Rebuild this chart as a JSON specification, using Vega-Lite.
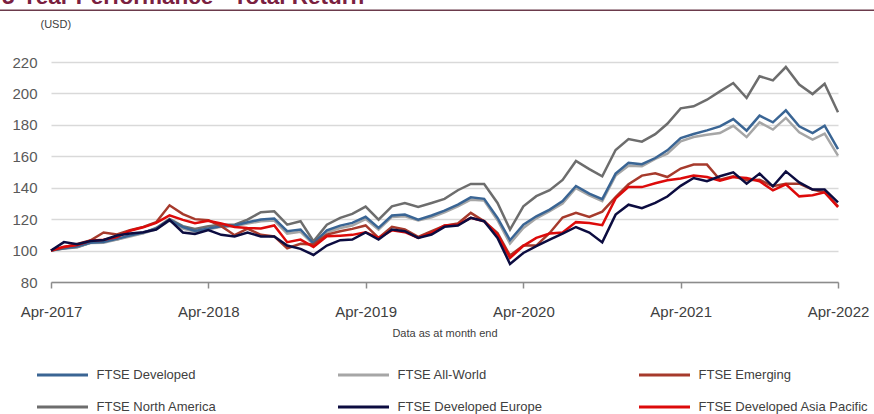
{
 "$schema": "https://vega.github.io/schema/vega-lite/v6.json",
 "width": 787,
 "height": 220,
 "autosize": {"type": "none"},
 "padding": {"left": 51, "top": 62, "right": 36, "bottom": 132},
 "background": "white",
 "config": {"view": {"stroke": null}, "font": "Liberation Sans"},
 "title": {"text": "5-Year Performance - Total Return", "anchor": "start", "frame": "group", "fontSize": 22.5, "fontWeight": "bold", "color": "#7a2040", "font": "Liberation Sans", "baseline": "alphabetic", "offset": 0, "dx": -49, "dy": 17},
 "datasets": {
  "frame": [{"start": "2016-12-01", "end": "2022-07-31", "level": 253}],
  "perf": [
{"month":"2017-04-01","series":"FTSE North America","value":100},
{"month":"2017-05-01","series":"FTSE North America","value":101.3},
{"month":"2017-06-01","series":"FTSE North America","value":102.1},
{"month":"2017-07-01","series":"FTSE North America","value":104.9},
{"month":"2017-08-01","series":"FTSE North America","value":105.9},
{"month":"2017-09-01","series":"FTSE North America","value":107.0},
{"month":"2017-10-01","series":"FTSE North America","value":109.5},
{"month":"2017-11-01","series":"FTSE North America","value":111.2},
{"month":"2017-12-01","series":"FTSE North America","value":114.4},
{"month":"2018-01-01","series":"FTSE North America","value":120.1},
{"month":"2018-02-01","series":"FTSE North America","value":115.5},
{"month":"2018-03-01","series":"FTSE North America","value":113.8},
{"month":"2018-04-01","series":"FTSE North America","value":115.5},
{"month":"2018-05-01","series":"FTSE North America","value":116.5},
{"month":"2018-06-01","series":"FTSE North America","value":116.5},
{"month":"2018-07-01","series":"FTSE North America","value":119.7},
{"month":"2018-08-01","series":"FTSE North America","value":124.4},
{"month":"2018-09-01","series":"FTSE North America","value":125.0},
{"month":"2018-10-01","series":"FTSE North America","value":116.5},
{"month":"2018-11-01","series":"FTSE North America","value":118.7},
{"month":"2018-12-01","series":"FTSE North America","value":105.9},
{"month":"2019-01-01","series":"FTSE North America","value":116.5},
{"month":"2019-02-01","series":"FTSE North America","value":120.8},
{"month":"2019-03-01","series":"FTSE North America","value":123.3},
{"month":"2019-04-01","series":"FTSE North America","value":128.0},
{"month":"2019-05-01","series":"FTSE North America","value":119.7},
{"month":"2019-06-01","series":"FTSE North America","value":128.2},
{"month":"2019-07-01","series":"FTSE North America","value":130.3},
{"month":"2019-08-01","series":"FTSE North America","value":127.8},
{"month":"2019-09-01","series":"FTSE North America","value":130.3},
{"month":"2019-10-01","series":"FTSE North America","value":132.9},
{"month":"2019-11-01","series":"FTSE North America","value":138.4},
{"month":"2019-12-01","series":"FTSE North America","value":142.4},
{"month":"2020-01-01","series":"FTSE North America","value":142.4},
{"month":"2020-02-01","series":"FTSE North America","value":130.3},
{"month":"2020-03-01","series":"FTSE North America","value":113.4},
{"month":"2020-04-01","series":"FTSE North America","value":128.2},
{"month":"2020-05-01","series":"FTSE North America","value":134.6},
{"month":"2020-06-01","series":"FTSE North America","value":138.4},
{"month":"2020-07-01","series":"FTSE North America","value":145.0},
{"month":"2020-08-01","series":"FTSE North America","value":157.0},
{"month":"2020-09-01","series":"FTSE North America","value":151.8},
{"month":"2020-10-01","series":"FTSE North America","value":147.3},
{"month":"2020-11-01","series":"FTSE North America","value":164.0},
{"month":"2020-12-01","series":"FTSE North America","value":171.0},
{"month":"2021-01-01","series":"FTSE North America","value":169.3},
{"month":"2021-02-01","series":"FTSE North America","value":174.1},
{"month":"2021-03-01","series":"FTSE North America","value":180.7},
{"month":"2021-04-01","series":"FTSE North America","value":190.5},
{"month":"2021-05-01","series":"FTSE North America","value":191.8},
{"month":"2021-06-01","series":"FTSE North America","value":196.0},
{"month":"2021-07-01","series":"FTSE North America","value":201.3},
{"month":"2021-08-01","series":"FTSE North America","value":206.6},
{"month":"2021-09-01","series":"FTSE North America","value":197.1},
{"month":"2021-10-01","series":"FTSE North America","value":210.9},
{"month":"2021-11-01","series":"FTSE North America","value":208.3},
{"month":"2021-12-01","series":"FTSE North America","value":216.8},
{"month":"2022-01-01","series":"FTSE North America","value":205.6},
{"month":"2022-02-01","series":"FTSE North America","value":199.6},
{"month":"2022-03-01","series":"FTSE North America","value":206.2},
{"month":"2022-04-01","series":"FTSE North America","value":188.0},
{"month":"2017-04-01","series":"FTSE All-World","value":100},
{"month":"2017-05-01","series":"FTSE All-World","value":101.7},
{"month":"2017-06-01","series":"FTSE All-World","value":102.5},
{"month":"2017-07-01","series":"FTSE All-World","value":104.8},
{"month":"2017-08-01","series":"FTSE All-World","value":105.0},
{"month":"2017-09-01","series":"FTSE All-World","value":107.0},
{"month":"2017-10-01","series":"FTSE All-World","value":109.0},
{"month":"2017-11-01","series":"FTSE All-World","value":111.0},
{"month":"2017-12-01","series":"FTSE All-World","value":113.5},
{"month":"2018-01-01","series":"FTSE All-World","value":119.0},
{"month":"2018-02-01","series":"FTSE All-World","value":114.0},
{"month":"2018-03-01","series":"FTSE All-World","value":112.0},
{"month":"2018-04-01","series":"FTSE All-World","value":113.5},
{"month":"2018-05-01","series":"FTSE All-World","value":115.1},
{"month":"2018-06-01","series":"FTSE All-World","value":115.5},
{"month":"2018-07-01","series":"FTSE All-World","value":117.2},
{"month":"2018-08-01","series":"FTSE All-World","value":118.7},
{"month":"2018-09-01","series":"FTSE All-World","value":119.1},
{"month":"2018-10-01","series":"FTSE All-World","value":110.8},
{"month":"2018-11-01","series":"FTSE All-World","value":111.9},
{"month":"2018-12-01","series":"FTSE All-World","value":103.8},
{"month":"2019-01-01","series":"FTSE All-World","value":111.7},
{"month":"2019-02-01","series":"FTSE All-World","value":114.4},
{"month":"2019-03-01","series":"FTSE All-World","value":115.9},
{"month":"2019-04-01","series":"FTSE All-World","value":120.0},
{"month":"2019-05-01","series":"FTSE All-World","value":113.4},
{"month":"2019-06-01","series":"FTSE All-World","value":121.4},
{"month":"2019-07-01","series":"FTSE All-World","value":121.8},
{"month":"2019-08-01","series":"FTSE All-World","value":119.1},
{"month":"2019-09-01","series":"FTSE All-World","value":121.2},
{"month":"2019-10-01","series":"FTSE All-World","value":124.4},
{"month":"2019-11-01","series":"FTSE All-World","value":128.2},
{"month":"2019-12-01","series":"FTSE All-World","value":132.4},
{"month":"2020-01-01","series":"FTSE All-World","value":131.8},
{"month":"2020-02-01","series":"FTSE All-World","value":119.3},
{"month":"2020-03-01","series":"FTSE All-World","value":104.5},
{"month":"2020-04-01","series":"FTSE All-World","value":114.4},
{"month":"2020-05-01","series":"FTSE All-World","value":120.5},
{"month":"2020-06-01","series":"FTSE All-World","value":125.0},
{"month":"2020-07-01","series":"FTSE All-World","value":130.0},
{"month":"2020-08-01","series":"FTSE All-World","value":139.8},
{"month":"2020-09-01","series":"FTSE All-World","value":135.2},
{"month":"2020-10-01","series":"FTSE All-World","value":131.5},
{"month":"2020-11-01","series":"FTSE All-World","value":147.7},
{"month":"2020-12-01","series":"FTSE All-World","value":154.0},
{"month":"2021-01-01","series":"FTSE All-World","value":153.6},
{"month":"2021-02-01","series":"FTSE All-World","value":158.3},
{"month":"2021-03-01","series":"FTSE All-World","value":161.7},
{"month":"2021-04-01","series":"FTSE All-World","value":169.5},
{"month":"2021-05-01","series":"FTSE All-World","value":172.3},
{"month":"2021-06-01","series":"FTSE All-World","value":173.7},
{"month":"2021-07-01","series":"FTSE All-World","value":174.8},
{"month":"2021-08-01","series":"FTSE All-World","value":179.4},
{"month":"2021-09-01","series":"FTSE All-World","value":172.2},
{"month":"2021-10-01","series":"FTSE All-World","value":181.6},
{"month":"2021-11-01","series":"FTSE All-World","value":177.0},
{"month":"2021-12-01","series":"FTSE All-World","value":184.4},
{"month":"2022-01-01","series":"FTSE All-World","value":175.3},
{"month":"2022-02-01","series":"FTSE All-World","value":170.6},
{"month":"2022-03-01","series":"FTSE All-World","value":174.4},
{"month":"2022-04-01","series":"FTSE All-World","value":160.4},
{"month":"2017-04-01","series":"FTSE Developed","value":100},
{"month":"2017-05-01","series":"FTSE Developed","value":101.5},
{"month":"2017-06-01","series":"FTSE Developed","value":102.5},
{"month":"2017-07-01","series":"FTSE Developed","value":105.0},
{"month":"2017-08-01","series":"FTSE Developed","value":105.5},
{"month":"2017-09-01","series":"FTSE Developed","value":107.5},
{"month":"2017-10-01","series":"FTSE Developed","value":109.5},
{"month":"2017-11-01","series":"FTSE Developed","value":111.5},
{"month":"2017-12-01","series":"FTSE Developed","value":114.0},
{"month":"2018-01-01","series":"FTSE Developed","value":119.5},
{"month":"2018-02-01","series":"FTSE Developed","value":115.0},
{"month":"2018-03-01","series":"FTSE Developed","value":112.5},
{"month":"2018-04-01","series":"FTSE Developed","value":114.0},
{"month":"2018-05-01","series":"FTSE Developed","value":115.5},
{"month":"2018-06-01","series":"FTSE Developed","value":115.9},
{"month":"2018-07-01","series":"FTSE Developed","value":118.0},
{"month":"2018-08-01","series":"FTSE Developed","value":119.7},
{"month":"2018-09-01","series":"FTSE Developed","value":120.4},
{"month":"2018-10-01","series":"FTSE Developed","value":112.3},
{"month":"2018-11-01","series":"FTSE Developed","value":113.4},
{"month":"2018-12-01","series":"FTSE Developed","value":104.5},
{"month":"2019-01-01","series":"FTSE Developed","value":112.9},
{"month":"2019-02-01","series":"FTSE Developed","value":115.9},
{"month":"2019-03-01","series":"FTSE Developed","value":117.6},
{"month":"2019-04-01","series":"FTSE Developed","value":121.5},
{"month":"2019-05-01","series":"FTSE Developed","value":114.4},
{"month":"2019-06-01","series":"FTSE Developed","value":122.3},
{"month":"2019-07-01","series":"FTSE Developed","value":122.9},
{"month":"2019-08-01","series":"FTSE Developed","value":119.7},
{"month":"2019-09-01","series":"FTSE Developed","value":122.3},
{"month":"2019-10-01","series":"FTSE Developed","value":125.4},
{"month":"2019-11-01","series":"FTSE Developed","value":129.3},
{"month":"2019-12-01","series":"FTSE Developed","value":133.9},
{"month":"2020-01-01","series":"FTSE Developed","value":132.9},
{"month":"2020-02-01","series":"FTSE Developed","value":120.8},
{"month":"2020-03-01","series":"FTSE Developed","value":106.6},
{"month":"2020-04-01","series":"FTSE Developed","value":116.5},
{"month":"2020-05-01","series":"FTSE Developed","value":121.8},
{"month":"2020-06-01","series":"FTSE Developed","value":126.1},
{"month":"2020-07-01","series":"FTSE Developed","value":131.5},
{"month":"2020-08-01","series":"FTSE Developed","value":141.1},
{"month":"2020-09-01","series":"FTSE Developed","value":136.2},
{"month":"2020-10-01","series":"FTSE Developed","value":132.7},
{"month":"2020-11-01","series":"FTSE Developed","value":149.0},
{"month":"2020-12-01","series":"FTSE Developed","value":155.8},
{"month":"2021-01-01","series":"FTSE Developed","value":155.0},
{"month":"2021-02-01","series":"FTSE Developed","value":158.9},
{"month":"2021-03-01","series":"FTSE Developed","value":163.8},
{"month":"2021-04-01","series":"FTSE Developed","value":171.6},
{"month":"2021-05-01","series":"FTSE Developed","value":174.2},
{"month":"2021-06-01","series":"FTSE Developed","value":176.5},
{"month":"2021-07-01","series":"FTSE Developed","value":179.0},
{"month":"2021-08-01","series":"FTSE Developed","value":183.7},
{"month":"2021-09-01","series":"FTSE Developed","value":176.3},
{"month":"2021-10-01","series":"FTSE Developed","value":185.9},
{"month":"2021-11-01","series":"FTSE Developed","value":181.6},
{"month":"2021-12-01","series":"FTSE Developed","value":189.2},
{"month":"2022-01-01","series":"FTSE Developed","value":179.1},
{"month":"2022-02-01","series":"FTSE Developed","value":174.8},
{"month":"2022-03-01","series":"FTSE Developed","value":179.5},
{"month":"2022-04-01","series":"FTSE Developed","value":164.6},
{"month":"2017-04-01","series":"FTSE Emerging","value":100},
{"month":"2017-05-01","series":"FTSE Emerging","value":102.1},
{"month":"2017-06-01","series":"FTSE Emerging","value":104.2},
{"month":"2017-07-01","series":"FTSE Emerging","value":106.4},
{"month":"2017-08-01","series":"FTSE Emerging","value":111.5},
{"month":"2017-09-01","series":"FTSE Emerging","value":110.2},
{"month":"2017-10-01","series":"FTSE Emerging","value":112.9},
{"month":"2017-11-01","series":"FTSE Emerging","value":115.1},
{"month":"2017-12-01","series":"FTSE Emerging","value":118.0},
{"month":"2018-01-01","series":"FTSE Emerging","value":128.8},
{"month":"2018-02-01","series":"FTSE Emerging","value":123.2},
{"month":"2018-03-01","series":"FTSE Emerging","value":120.0},
{"month":"2018-04-01","series":"FTSE Emerging","value":119.3},
{"month":"2018-05-01","series":"FTSE Emerging","value":115.5},
{"month":"2018-06-01","series":"FTSE Emerging","value":109.8},
{"month":"2018-07-01","series":"FTSE Emerging","value":114.0},
{"month":"2018-08-01","series":"FTSE Emerging","value":110.0},
{"month":"2018-09-01","series":"FTSE Emerging","value":109.0},
{"month":"2018-10-01","series":"FTSE Emerging","value":101.5},
{"month":"2018-11-01","series":"FTSE Emerging","value":104.3},
{"month":"2018-12-01","series":"FTSE Emerging","value":103.8},
{"month":"2019-01-01","series":"FTSE Emerging","value":110.2},
{"month":"2019-02-01","series":"FTSE Emerging","value":112.3},
{"month":"2019-03-01","series":"FTSE Emerging","value":113.8},
{"month":"2019-04-01","series":"FTSE Emerging","value":116.0},
{"month":"2019-05-01","series":"FTSE Emerging","value":108.1},
{"month":"2019-06-01","series":"FTSE Emerging","value":115.1},
{"month":"2019-07-01","series":"FTSE Emerging","value":113.4},
{"month":"2019-08-01","series":"FTSE Emerging","value":108.7},
{"month":"2019-09-01","series":"FTSE Emerging","value":112.3},
{"month":"2019-10-01","series":"FTSE Emerging","value":115.9},
{"month":"2019-11-01","series":"FTSE Emerging","value":117.2},
{"month":"2019-12-01","series":"FTSE Emerging","value":124.0},
{"month":"2020-01-01","series":"FTSE Emerging","value":118.7},
{"month":"2020-02-01","series":"FTSE Emerging","value":111.2},
{"month":"2020-03-01","series":"FTSE Emerging","value":96.8},
{"month":"2020-04-01","series":"FTSE Emerging","value":103.3},
{"month":"2020-05-01","series":"FTSE Emerging","value":103.2},
{"month":"2020-06-01","series":"FTSE Emerging","value":111.2},
{"month":"2020-07-01","series":"FTSE Emerging","value":121.0},
{"month":"2020-08-01","series":"FTSE Emerging","value":124.0},
{"month":"2020-09-01","series":"FTSE Emerging","value":121.4},
{"month":"2020-10-01","series":"FTSE Emerging","value":124.8},
{"month":"2020-11-01","series":"FTSE Emerging","value":134.0},
{"month":"2020-12-01","series":"FTSE Emerging","value":142.2},
{"month":"2021-01-01","series":"FTSE Emerging","value":147.7},
{"month":"2021-02-01","series":"FTSE Emerging","value":149.2},
{"month":"2021-03-01","series":"FTSE Emerging","value":146.8},
{"month":"2021-04-01","series":"FTSE Emerging","value":152.2},
{"month":"2021-05-01","series":"FTSE Emerging","value":154.7},
{"month":"2021-06-01","series":"FTSE Emerging","value":154.7},
{"month":"2021-07-01","series":"FTSE Emerging","value":145.1},
{"month":"2021-08-01","series":"FTSE Emerging","value":147.3},
{"month":"2021-09-01","series":"FTSE Emerging","value":144.7},
{"month":"2021-10-01","series":"FTSE Emerging","value":145.1},
{"month":"2021-11-01","series":"FTSE Emerging","value":140.9},
{"month":"2021-12-01","series":"FTSE Emerging","value":142.6},
{"month":"2022-01-01","series":"FTSE Emerging","value":142.6},
{"month":"2022-02-01","series":"FTSE Emerging","value":138.8},
{"month":"2022-03-01","series":"FTSE Emerging","value":137.1},
{"month":"2022-04-01","series":"FTSE Emerging","value":128.2},
{"month":"2017-04-01","series":"FTSE Developed Asia Pacific","value":100},
{"month":"2017-05-01","series":"FTSE Developed Asia Pacific","value":102.5},
{"month":"2017-06-01","series":"FTSE Developed Asia Pacific","value":103.6},
{"month":"2017-07-01","series":"FTSE Developed Asia Pacific","value":106.2},
{"month":"2017-08-01","series":"FTSE Developed Asia Pacific","value":106.9},
{"month":"2017-09-01","series":"FTSE Developed Asia Pacific","value":108.6},
{"month":"2017-10-01","series":"FTSE Developed Asia Pacific","value":112.6},
{"month":"2017-11-01","series":"FTSE Developed Asia Pacific","value":114.8},
{"month":"2017-12-01","series":"FTSE Developed Asia Pacific","value":117.6},
{"month":"2018-01-01","series":"FTSE Developed Asia Pacific","value":122.4},
{"month":"2018-02-01","series":"FTSE Developed Asia Pacific","value":119.5},
{"month":"2018-03-01","series":"FTSE Developed Asia Pacific","value":117.4},
{"month":"2018-04-01","series":"FTSE Developed Asia Pacific","value":119.0},
{"month":"2018-05-01","series":"FTSE Developed Asia Pacific","value":117.2},
{"month":"2018-06-01","series":"FTSE Developed Asia Pacific","value":115.0},
{"month":"2018-07-01","series":"FTSE Developed Asia Pacific","value":114.4},
{"month":"2018-08-01","series":"FTSE Developed Asia Pacific","value":114.1},
{"month":"2018-09-01","series":"FTSE Developed Asia Pacific","value":116.0},
{"month":"2018-10-01","series":"FTSE Developed Asia Pacific","value":105.3},
{"month":"2018-11-01","series":"FTSE Developed Asia Pacific","value":107.0},
{"month":"2018-12-01","series":"FTSE Developed Asia Pacific","value":102.3},
{"month":"2019-01-01","series":"FTSE Developed Asia Pacific","value":109.1},
{"month":"2019-02-01","series":"FTSE Developed Asia Pacific","value":109.5},
{"month":"2019-03-01","series":"FTSE Developed Asia Pacific","value":110.0},
{"month":"2019-04-01","series":"FTSE Developed Asia Pacific","value":111.7},
{"month":"2019-05-01","series":"FTSE Developed Asia Pacific","value":108.1},
{"month":"2019-06-01","series":"FTSE Developed Asia Pacific","value":112.9},
{"month":"2019-07-01","series":"FTSE Developed Asia Pacific","value":111.7},
{"month":"2019-08-01","series":"FTSE Developed Asia Pacific","value":108.1},
{"month":"2019-09-01","series":"FTSE Developed Asia Pacific","value":111.2},
{"month":"2019-10-01","series":"FTSE Developed Asia Pacific","value":115.9},
{"month":"2019-11-01","series":"FTSE Developed Asia Pacific","value":116.5},
{"month":"2019-12-01","series":"FTSE Developed Asia Pacific","value":120.8},
{"month":"2020-01-01","series":"FTSE Developed Asia Pacific","value":118.7},
{"month":"2020-02-01","series":"FTSE Developed Asia Pacific","value":110.2},
{"month":"2020-03-01","series":"FTSE Developed Asia Pacific","value":95.3},
{"month":"2020-04-01","series":"FTSE Developed Asia Pacific","value":103.0},
{"month":"2020-05-01","series":"FTSE Developed Asia Pacific","value":108.1},
{"month":"2020-06-01","series":"FTSE Developed Asia Pacific","value":110.8},
{"month":"2020-07-01","series":"FTSE Developed Asia Pacific","value":111.5},
{"month":"2020-08-01","series":"FTSE Developed Asia Pacific","value":118.1},
{"month":"2020-09-01","series":"FTSE Developed Asia Pacific","value":117.6},
{"month":"2020-10-01","series":"FTSE Developed Asia Pacific","value":116.2},
{"month":"2020-11-01","series":"FTSE Developed Asia Pacific","value":133.2},
{"month":"2020-12-01","series":"FTSE Developed Asia Pacific","value":140.5},
{"month":"2021-01-01","series":"FTSE Developed Asia Pacific","value":140.4},
{"month":"2021-02-01","series":"FTSE Developed Asia Pacific","value":142.8},
{"month":"2021-03-01","series":"FTSE Developed Asia Pacific","value":144.7},
{"month":"2021-04-01","series":"FTSE Developed Asia Pacific","value":145.9},
{"month":"2021-05-01","series":"FTSE Developed Asia Pacific","value":147.7},
{"month":"2021-06-01","series":"FTSE Developed Asia Pacific","value":146.8},
{"month":"2021-07-01","series":"FTSE Developed Asia Pacific","value":144.5},
{"month":"2021-08-01","series":"FTSE Developed Asia Pacific","value":146.8},
{"month":"2021-09-01","series":"FTSE Developed Asia Pacific","value":146.2},
{"month":"2021-10-01","series":"FTSE Developed Asia Pacific","value":144.1},
{"month":"2021-11-01","series":"FTSE Developed Asia Pacific","value":138.3},
{"month":"2021-12-01","series":"FTSE Developed Asia Pacific","value":142.2},
{"month":"2022-01-01","series":"FTSE Developed Asia Pacific","value":134.5},
{"month":"2022-02-01","series":"FTSE Developed Asia Pacific","value":135.2},
{"month":"2022-03-01","series":"FTSE Developed Asia Pacific","value":137.1},
{"month":"2022-04-01","series":"FTSE Developed Asia Pacific","value":127.7},
{"month":"2017-04-01","series":"FTSE Developed Europe","value":100},
{"month":"2017-05-01","series":"FTSE Developed Europe","value":105.4},
{"month":"2017-06-01","series":"FTSE Developed Europe","value":104.0},
{"month":"2017-07-01","series":"FTSE Developed Europe","value":106.1},
{"month":"2017-08-01","series":"FTSE Developed Europe","value":106.7},
{"month":"2017-09-01","series":"FTSE Developed Europe","value":109.6},
{"month":"2017-10-01","series":"FTSE Developed Europe","value":110.9},
{"month":"2017-11-01","series":"FTSE Developed Europe","value":111.7},
{"month":"2017-12-01","series":"FTSE Developed Europe","value":113.4},
{"month":"2018-01-01","series":"FTSE Developed Europe","value":119.5},
{"month":"2018-02-01","series":"FTSE Developed Europe","value":111.5},
{"month":"2018-03-01","series":"FTSE Developed Europe","value":110.5},
{"month":"2018-04-01","series":"FTSE Developed Europe","value":113.0},
{"month":"2018-05-01","series":"FTSE Developed Europe","value":110.0},
{"month":"2018-06-01","series":"FTSE Developed Europe","value":109.0},
{"month":"2018-07-01","series":"FTSE Developed Europe","value":111.5},
{"month":"2018-08-01","series":"FTSE Developed Europe","value":109.0},
{"month":"2018-09-01","series":"FTSE Developed Europe","value":109.0},
{"month":"2018-10-01","series":"FTSE Developed Europe","value":103.2},
{"month":"2018-11-01","series":"FTSE Developed Europe","value":101.1},
{"month":"2018-12-01","series":"FTSE Developed Europe","value":97.2},
{"month":"2019-01-01","series":"FTSE Developed Europe","value":103.2},
{"month":"2019-02-01","series":"FTSE Developed Europe","value":106.6},
{"month":"2019-03-01","series":"FTSE Developed Europe","value":107.0},
{"month":"2019-04-01","series":"FTSE Developed Europe","value":111.5},
{"month":"2019-05-01","series":"FTSE Developed Europe","value":107.0},
{"month":"2019-06-01","series":"FTSE Developed Europe","value":113.4},
{"month":"2019-07-01","series":"FTSE Developed Europe","value":112.3},
{"month":"2019-08-01","series":"FTSE Developed Europe","value":108.1},
{"month":"2019-09-01","series":"FTSE Developed Europe","value":110.2},
{"month":"2019-10-01","series":"FTSE Developed Europe","value":115.1},
{"month":"2019-11-01","series":"FTSE Developed Europe","value":115.9},
{"month":"2019-12-01","series":"FTSE Developed Europe","value":120.8},
{"month":"2020-01-01","series":"FTSE Developed Europe","value":118.7},
{"month":"2020-02-01","series":"FTSE Developed Europe","value":108.1},
{"month":"2020-03-01","series":"FTSE Developed Europe","value":91.5},
{"month":"2020-04-01","series":"FTSE Developed Europe","value":98.5},
{"month":"2020-05-01","series":"FTSE Developed Europe","value":102.8},
{"month":"2020-06-01","series":"FTSE Developed Europe","value":107.0},
{"month":"2020-07-01","series":"FTSE Developed Europe","value":110.8},
{"month":"2020-08-01","series":"FTSE Developed Europe","value":115.0},
{"month":"2020-09-01","series":"FTSE Developed Europe","value":111.5},
{"month":"2020-10-01","series":"FTSE Developed Europe","value":105.2},
{"month":"2020-11-01","series":"FTSE Developed Europe","value":122.9},
{"month":"2020-12-01","series":"FTSE Developed Europe","value":129.2},
{"month":"2021-01-01","series":"FTSE Developed Europe","value":127.0},
{"month":"2021-02-01","series":"FTSE Developed Europe","value":130.3},
{"month":"2021-03-01","series":"FTSE Developed Europe","value":134.4},
{"month":"2021-04-01","series":"FTSE Developed Europe","value":141.2},
{"month":"2021-05-01","series":"FTSE Developed Europe","value":146.2},
{"month":"2021-06-01","series":"FTSE Developed Europe","value":144.1},
{"month":"2021-07-01","series":"FTSE Developed Europe","value":147.3},
{"month":"2021-08-01","series":"FTSE Developed Europe","value":149.8},
{"month":"2021-09-01","series":"FTSE Developed Europe","value":142.6},
{"month":"2021-10-01","series":"FTSE Developed Europe","value":149.0},
{"month":"2021-11-01","series":"FTSE Developed Europe","value":140.9},
{"month":"2021-12-01","series":"FTSE Developed Europe","value":150.4},
{"month":"2022-01-01","series":"FTSE Developed Europe","value":143.4},
{"month":"2022-02-01","series":"FTSE Developed Europe","value":138.8},
{"month":"2022-03-01","series":"FTSE Developed Europe","value":138.8},
{"month":"2022-04-01","series":"FTSE Developed Europe","value":130.7}
  ]
 },
 "layer": [
  {
   "data": {"name": "perf"},
   "mark": {"type": "line", "strokeWidth": 2.5},
   "encoding": {
    "x": {
     "field": "month", "type": "temporal",
     "scale": {"type": "utc", "domain": [{"year": 2017, "month": 4, "date": 1, "utc": true}, {"year": 2022, "month": 4, "date": 1, "utc": true}]},
     "axis": {
      "title": "Data as at month end",
      "values": [{"year": 2017, "month": 4, "date": 1, "utc": true}, {"year": 2018, "month": 4, "date": 1, "utc": true}, {"year": 2019, "month": 4, "date": 1, "utc": true}, {"year": 2020, "month": 4, "date": 1, "utc": true}, {"year": 2021, "month": 4, "date": 1, "utc": true}, {"year": 2022, "month": 4, "date": 1, "utc": true}],
      "format": "%b-%Y", "labelFlush": false, "labelOverlap": false, "grid": false,
      "domainColor": "#8c8c8c", "domainWidth": 1.5, "tickColor": "#8c8c8c", "tickWidth": 1.5, "tickSize": 6,
      "labelFontSize": 15, "labelColor": "#404040", "labelPadding": 16,
      "titleFontSize": 11, "titleFontWeight": "normal", "titleColor": "#404040", "titlePadding": 8
     }
    },
    "y": {
     "field": "value", "type": "quantitative",
     "scale": {"domain": [80, 220], "nice": false, "zero": false},
     "axis": {
      "title": "(USD)", "values": [80, 100, 120, 140, 160, 180, 200, 220], "tickCount": 8,
      "domain": false, "ticks": false, "grid": true, "gridColor": "#d9d9d9", "gridWidth": 1.5,
      "labelFontSize": 15, "labelColor": "#595959", "labelPadding": 14, "labelOverlap": false, "labelFlush": false,
      "titleAngle": 0, "titleAlign": "left", "titleBaseline": "middle", "titleX": -11, "titleY": -38,
      "titleFontSize": 11, "titleFontWeight": "normal", "titleColor": "#404040"
     }
    },
    "color": {
     "field": "series", "type": "nominal",
     "scale": {
      "domain": ["FTSE Developed", "FTSE All-World", "FTSE Emerging", "FTSE North America", "FTSE Developed Europe", "FTSE Developed Asia Pacific"],
      "range": ["#3a6594", "#a6a6a6", "#a63a2c", "#6d6d6d", "#0c0c40", "#dd0a0a"]
     },
     "legend": {
      "title": null, "orient": "none", "legendX": -15.5, "legendY": 305, "direction": "horizontal", "columns": 3,
      "gridAlign": "all", "columnPadding": 70, "rowPadding": 16, "clipHeight": 16, "padding": 0,
      "symbolType": "stroke", "symbolSize": 2601, "symbolStrokeWidth": 3,
      "labelFontSize": 13, "labelColor": "#404040", "labelOffset": 7, "labelLimit": 300
     }
    }
   }
  },
  {
   "data": {"name": "frame"},
   "mark": {"type": "rule", "color": "#6b3a4b", "strokeWidth": 1.5},
   "encoding": {
    "x": {"field": "start", "type": "temporal", "title": "Data as at month end",
     "axis": {
      "title": "Data as at month end",
      "values": [{"year": 2017, "month": 4, "date": 1, "utc": true}, {"year": 2018, "month": 4, "date": 1, "utc": true}, {"year": 2019, "month": 4, "date": 1, "utc": true}, {"year": 2020, "month": 4, "date": 1, "utc": true}, {"year": 2021, "month": 4, "date": 1, "utc": true}, {"year": 2022, "month": 4, "date": 1, "utc": true}],
      "format": "%b-%Y", "labelFlush": false, "labelOverlap": false, "grid": false,
      "domainColor": "#8c8c8c", "domainWidth": 1.5, "tickColor": "#8c8c8c", "tickWidth": 1.5, "tickSize": 6,
      "labelFontSize": 15, "labelColor": "#404040", "labelPadding": 16,
      "titleFontSize": 11, "titleFontWeight": "normal", "titleColor": "#404040", "titlePadding": 8
     }},
    "x2": {"field": "end"},
    "y": {"field": "level", "type": "quantitative", "title": "(USD)",
     "axis": {
      "title": "(USD)", "values": [80, 100, 120, 140, 160, 180, 200, 220], "tickCount": 8,
      "domain": false, "ticks": false, "grid": true, "gridColor": "#d9d9d9", "gridWidth": 1.5,
      "labelFontSize": 15, "labelColor": "#595959", "labelPadding": 14, "labelOverlap": false, "labelFlush": false,
      "titleAngle": 0, "titleAlign": "left", "titleBaseline": "middle", "titleX": -11, "titleY": -38,
      "titleFontSize": 11, "titleFontWeight": "normal", "titleColor": "#404040"
     }}
   }
  }
 ]
}
